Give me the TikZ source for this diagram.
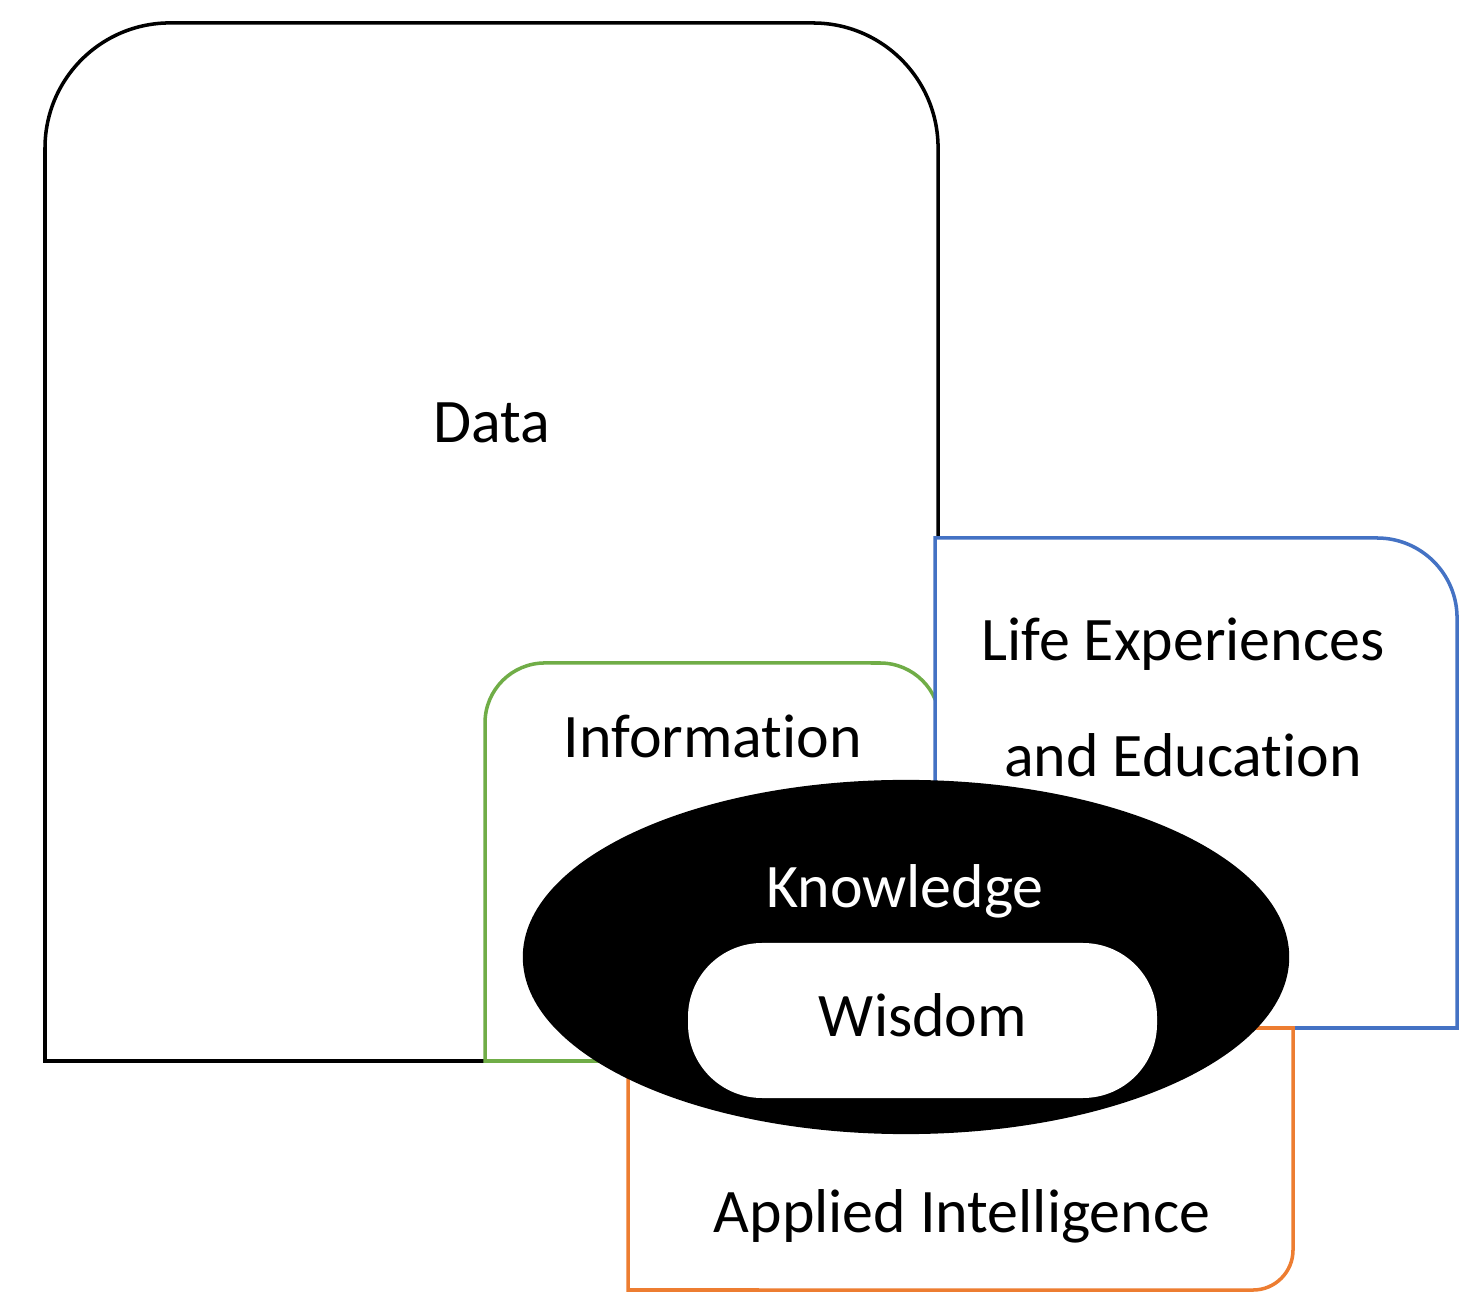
\documentclass[tikz,border=0pt]{standalone}
\usepackage{fontspec}
\setmainfont{Carlito}[Ligatures={NoCommon}]
\definecolor{boxgreen}{HTML}{70AD47}
\definecolor{boxblue}{HTML}{4472C4}
\definecolor{boxorange}{HTML}{ED7D31}
\begin{document}
\begin{tikzpicture}[x=0.01cm,y=0.01cm,
  boxshape/.style={line width=1pt, fill=white},
  lbl/.style={anchor=base, inner sep=0pt, font=\fontsize{17.6}{20}\selectfont, text=black}]
\useasboundingbox[fill=white] (0,0) rectangle (1461,1297);
% Data
\draw[boxshape, draw=black] (45,236) -- (45,1149) arc(180:90:1.25cm) -- (813,1274) arc(90:0:1.25cm) -- (938,236) -- cycle;
% Information
\draw[boxshape, draw=boxgreen] (485,236) -- (485,574) arc(180:90:0.6cm) -- (880,634) arc(90:0:0.6cm) -- (940,236) -- cycle;
% Life experiences
\draw[boxshape, draw=boxblue] (935,269) -- (935,759) -- (1377,759) arc(90:0:0.8cm) -- (1457,269) -- cycle;
% Applied intelligence
\draw[boxshape, draw=boxorange] (628,269) -- (1293,269) -- (1293,47) arc(0:-90:0.4cm) -- (628,7) -- cycle;
% Knowledge
\fill[black] (906,340) ellipse [x radius=3.83cm, y radius=1.77cm];
% Wisdom
\fill[white, rounded corners=0.74cm] (688,199) rectangle (1157,354);
\node[lbl] (data) at (492,854) {Data};
\node[lbl] (info) at (713,539) {Information};
\node[lbl] (life1) at (1183,636) {Life Experiences};
\node[lbl] (life2) at (1183,520) {and Education};
\node[lbl, text=white] (know) at (905,389) {Knowledge};
\node[lbl] (wis) at (923,260) {Wisdom};
\node[lbl] (appl) at (962,65) {Applied Intelligence};
\end{tikzpicture}
\end{document}
